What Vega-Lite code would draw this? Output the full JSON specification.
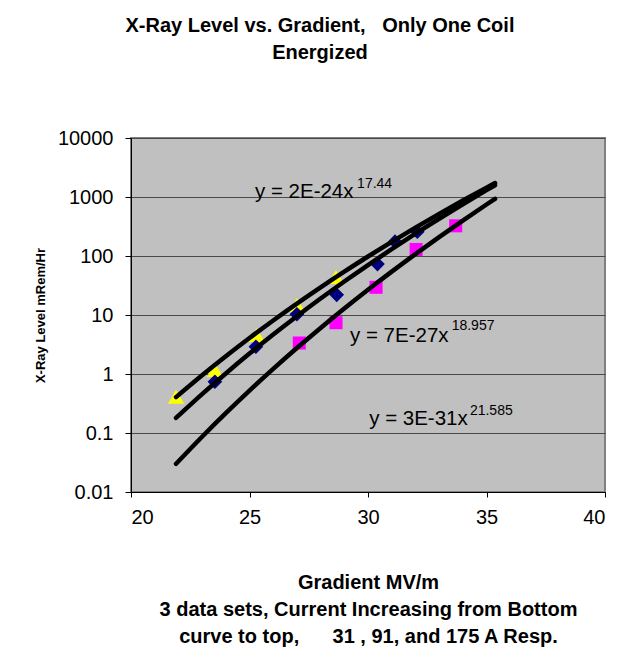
{
  "$schema": "https://vega.github.io/schema/vega-lite/v6.json",
  "autosize": "none",
  "width": 474,
  "height": 354,
  "padding": {"left": 131, "top": 138, "right": 18, "bottom": 164},
  "background": "white",
  "title": {
    "text": ["X-Ray Level vs. Gradient, \u00a0 Only One Coil", "Energized"],
    "fontSize": 20,
    "fontWeight": "bold",
    "font": "Liberation Sans",
    "color": "black",
    "lineHeight": 27,
    "anchor": "middle",
    "frame": "bounds",
    "offset": 65
  },
  "config": {
    "font": "Liberation Sans",
    "view": {"fill": "#C0C0C0", "stroke": "#808080", "strokeWidth": 2},
    "axis": {
      "labelFont": "Liberation Sans",
      "titleFont": "Liberation Sans",
      "labelColor": "black",
      "titleColor": "black",
      "domainColor": "black",
      "tickColor": "black"
    }
  },
  "datasets": {
    "points": [
      {"series": "175 A", "x": 21.9, "y": 0.41},
      {"series": "175 A", "x": 23.54, "y": 1.17},
      {"series": "175 A", "x": 25.3, "y": 4.6},
      {"series": "175 A", "x": 27.0, "y": 14.8},
      {"series": "175 A", "x": 28.65, "y": 44},
      {"series": "91 A", "x": 23.54, "y": 0.74},
      {"series": "91 A", "x": 25.27, "y": 2.9},
      {"series": "91 A", "x": 27.0, "y": 10.3},
      {"series": "91 A", "x": 28.68, "y": 22},
      {"series": "91 A", "x": 30.4, "y": 73},
      {"series": "91 A", "x": 31.14, "y": 175},
      {"series": "91 A", "x": 32.08, "y": 258},
      {"series": "31 A", "x": 27.1, "y": 3.35},
      {"series": "31 A", "x": 28.65, "y": 7.4},
      {"series": "31 A", "x": 30.34, "y": 29.5},
      {"series": "31 A", "x": 32.03, "y": 129},
      {"series": "31 A", "x": 33.7, "y": 325}
    ],
    "trend": [
      {"series": "175 A", "x": 21.9, "y": 0.405},
      {"series": "175 A", "x": 23, "y": 0.953},
      {"series": "175 A", "x": 24, "y": 2.001},
      {"series": "175 A", "x": 25, "y": 4.078},
      {"series": "175 A", "x": 26, "y": 8.08},
      {"series": "175 A", "x": 27, "y": 15.61},
      {"series": "175 A", "x": 28, "y": 29.43},
      {"series": "175 A", "x": 29, "y": 54.29},
      {"series": "175 A", "x": 30, "y": 98.0},
      {"series": "175 A", "x": 31, "y": 173.7},
      {"series": "175 A", "x": 32, "y": 302.1},
      {"series": "175 A", "x": 33, "y": 516.8},
      {"series": "175 A", "x": 34, "y": 869.6},
      {"series": "175 A", "x": 35, "y": 1442},
      {"series": "175 A", "x": 35.36, "y": 1723},
      {"series": "91 A", "x": 21.9, "y": 0.1803},
      {"series": "91 A", "x": 23, "y": 0.4564},
      {"series": "91 A", "x": 24, "y": 1.023},
      {"series": "91 A", "x": 25, "y": 2.217},
      {"series": "91 A", "x": 26, "y": 4.664},
      {"series": "91 A", "x": 27, "y": 9.537},
      {"series": "91 A", "x": 28, "y": 19.01},
      {"series": "91 A", "x": 29, "y": 36.97},
      {"series": "91 A", "x": 30, "y": 70.29},
      {"series": "91 A", "x": 31, "y": 130.9},
      {"series": "91 A", "x": 32, "y": 238.9},
      {"series": "91 A", "x": 33, "y": 428.0},
      {"series": "91 A", "x": 34, "y": 754.2},
      {"series": "91 A", "x": 35, "y": 1306.5},
      {"series": "91 A", "x": 35.36, "y": 1586},
      {"series": "31 A", "x": 21.9, "y": 0.03003},
      {"series": "31 A", "x": 23, "y": 0.0865},
      {"series": "31 A", "x": 24, "y": 0.2168},
      {"series": "31 A", "x": 25, "y": 0.5233},
      {"series": "31 A", "x": 26, "y": 1.22},
      {"series": "31 A", "x": 27, "y": 2.754},
      {"series": "31 A", "x": 28, "y": 6.04},
      {"series": "31 A", "x": 29, "y": 12.88},
      {"series": "31 A", "x": 30, "y": 26.77},
      {"series": "31 A", "x": 31, "y": 54.34},
      {"series": "31 A", "x": 32, "y": 107.8},
      {"series": "31 A", "x": 33, "y": 209.5},
      {"series": "31 A", "x": 34, "y": 399.2},
      {"series": "31 A", "x": 35, "y": 746.3},
      {"series": "31 A", "x": 35.36, "y": 930}
    ],
    "labels": [
      {"kind": "base", "text": "y = 2E-24x", "x": 25.23, "y": 962},
      {"kind": "sup", "text": "17.44", "x": 29.54, "y": 1422},
      {"kind": "base", "text": "y = 7E-27x", "x": 29.24, "y": 3.52},
      {"kind": "sup", "text": "18.957", "x": 33.53, "y": 5.57},
      {"kind": "base", "text": "y = 3E-31x", "x": 30.05, "y": 0.1367},
      {"kind": "sup", "text": "21.585", "x": 34.3, "y": 0.2018}
    ]
  },
  "encoding": {
    "x": {
      "field": "x",
      "type": "quantitative",
      "scale": {"domain": [20, 40], "nice": false, "zero": false},
      "axis": {
        "values": [20, 25, 30, 35, 40],
        "grid": false,
        "tickSize": 5,
        "labelFontSize": 20,
        "labelPadding": 10,
        "title": ["Gradient MV/m", "3 data sets, Current Increasing from Bottom", "curve to top, \u00a0\u00a0\u00a0\u00a0 31 , 91, and 175 A Resp."],
        "titleFontSize": 20,
        "titleFontWeight": "bold",
        "titleLineHeight": 27,
        "titlePadding": 45
      }
    },
    "y": {
      "field": "y",
      "type": "quantitative",
      "scale": {"type": "log", "domain": [0.01, 10000], "nice": false},
      "axis": {
        "values": [0.01, 0.1, 1, 10, 100, 1000, 10000],
        "format": "~g",
        "grid": true,
        "gridColor": "#4a4a4a",
        "gridWidth": 1,
        "tickSize": 6,
        "labelFontSize": 20,
        "labelPadding": 12,
        "title": "X-Ray Level mRem/Hr",
        "titleFontSize": 13,
        "titleFontWeight": "bold",
        "titlePadding": 10
      }
    }
  },
  "layer": [
    {
      "data": {"name": "points"},
      "mark": {"type": "point", "filled": true, "opacity": 1},
      "encoding": {
        "color": {"field": "series", "type": "nominal", "scale": {"domain": ["175 A", "91 A", "31 A"], "range": ["#FFFF00", "#000080", "#FF00FF"]}, "legend": null},
        "shape": {"field": "series", "type": "nominal", "scale": {"domain": ["175 A", "91 A", "31 A"], "range": ["triangle-up", "diamond", "square"]}, "legend": null},
        "size": {"field": "series", "type": "nominal", "scale": {"domain": ["175 A", "91 A", "31 A"], "range": [260, 170, 210]}, "legend": null}
      }
    },
    {
      "data": {"name": "trend"},
      "mark": {"type": "line", "color": "black", "strokeWidth": 4.5, "interpolate": "monotone", "strokeCap": "round"},
      "encoding": {"detail": {"field": "series"}}
    },
    {
      "data": {"name": "labels"},
      "transform": [{"filter": "datum.kind == 'base'"}],
      "mark": {"type": "text", "align": "left", "baseline": "alphabetic", "fontSize": 20.5, "color": "black", "font": "Liberation Sans"},
      "encoding": {"text": {"field": "text"}}
    },
    {
      "data": {"name": "labels"},
      "transform": [{"filter": "datum.kind == 'sup'"}],
      "mark": {"type": "text", "align": "left", "baseline": "alphabetic", "fontSize": 14, "color": "black", "font": "Liberation Sans"},
      "encoding": {"text": {"field": "text"}}
    }
  ]
}
